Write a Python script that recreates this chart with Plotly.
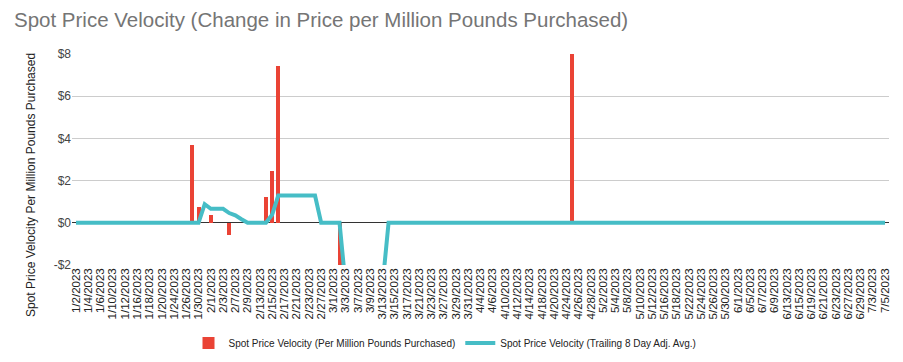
import pandas as pd
import plotly.graph_objects as go

# Categories: every weekday from 1/2/2023 to 7/5/2023
dates = [f"{d.month}/{d.day}/{d.year}" for d in pd.bdate_range("2023-01-02", "2023-07-05")]
tick_labels = dates[::2]

# Red bars (non-zero days only)
bar_dates = ["1/27/2023", "1/30/2023", "2/1/2023", "2/6/2023", "2/14/2023",
             "2/15/2023", "2/16/2023", "3/2/2023", "4/25/2023"]
bar_values = [3.7, 0.77, 0.35, -0.6, 1.2, 2.45, 7.42, -24.0, 9.0]

# Teal trailing average line (one value per weekday)
line_values = [
    0, 0, 0, 0, 0, 0, 0, 0, 0, 0,
    0, 0, 0, 0, 0, 0, 0, 0, 0, 0,
    0, 0.88, 0.66, 0.66, 0.66, 0.46, 0.35, 0.17, 0, 0,
    0, 0, 0.38, 1.29, 1.29, 1.29, 1.29, 1.29, 1.29, 1.29,
    0, 0, 0, 0, -3, -3, -3, -3, -3, -3,
    -3, 0, 0, 0, 0, 0, 0, 0, 0, 0,
    0, 0, 0, 0, 0, 0, 0, 0, 0, 0,
    0, 0, 0, 0, 0, 0, 0, 0, 0, 0,
    0, 0, 0, 0, 0, 0, 0, 0, 0, 0,
    0, 0, 0, 0, 0, 0, 0, 0, 0, 0,
    0, 0, 0, 0, 0, 0, 0, 0, 0, 0,
    0, 0, 0, 0, 0, 0, 0, 0, 0, 0,
    0, 0, 0, 0, 0, 0, 0, 0, 0, 0,
    0, 0, 0,
]

y_ticks = [-2, 0, 2, 4, 6, 8]
y_tick_text = ["-$2", "$0", "$2", "$4", "$6", "$8"]

FONT = "Liberation Sans, Arial, sans-serif"

fig = go.Figure()
fig.add_trace(go.Bar(
    x=bar_dates, y=bar_values, width=0.65,
    marker=dict(color="#ea4335", line=dict(width=0)),
    name="Spot Price Velocity (Per Million Pounds Purchased)",
))
fig.add_trace(go.Scatter(
    x=dates, y=line_values, mode="lines",
    line=dict(color="#46bdc6", width=4),
    name="Spot Price Velocity (Trailing 8 Day Adj. Avg.)",
))

fig.update_layout(
    width=903, height=362,
    margin=dict(l=72, r=14, t=54, b=97, autoexpand=False),
    paper_bgcolor="white", plot_bgcolor="white",
    font=dict(family=FONT, color="#444444"),
    title=dict(
        text="Spot Price Velocity (Change in Price per Million Pounds Purchased)",
        x=14 / 903, xanchor="left", xref="container",
        y=1 - 20 / 362, yanchor="middle", yref="container",
        pad=dict(l=0, r=0, t=0, b=0),
        font=dict(size=20.5, color="#757575", family=FONT),
    ),
    showlegend=True,
    legend=dict(
        orientation="h", x=(445 - 72) / 817, xanchor="center",
        y=-0.37, yanchor="middle",
        font=dict(size=10, color="#222222"), itemwidth=30,
        traceorder="normal",
    ),
    bargap=0,
)
fig.update_xaxes(
    type="category", categoryorder="array", categoryarray=dates,
    range=[-0.65, 132.65], automargin=False,
    tickmode="array", tickvals=tick_labels, ticktext=tick_labels,
    tickangle=-90, tickfont=dict(size=11.5, color="#222222"),
    showgrid=False, ticks="", showline=False,
)
fig.update_yaxes(
    range=[-2, 8], tickvals=y_ticks, ticktext=y_tick_text, automargin=False,
    tickfont=dict(size=12, color="#444444"),
    showgrid=True, gridcolor="#cccccc", gridwidth=1,
    zeroline=True, zerolinecolor="#333333", zerolinewidth=1,
    ticks="",
)
fig.add_annotation(
    text="Spot Price Velocity Per Million Pounds Purchased",
    xref="paper", yref="paper", x=0, y=(265 - 185) / 211,
    xshift=-50, textangle=-90, showarrow=False,
    font=dict(size=12, color="#222222", family=FONT),
)

fig.write_html(
    "out.html",
    config={"displayModeBar": False},
    post_script="document.body.style.margin='0';document.body.style.overflow='hidden';",
)
